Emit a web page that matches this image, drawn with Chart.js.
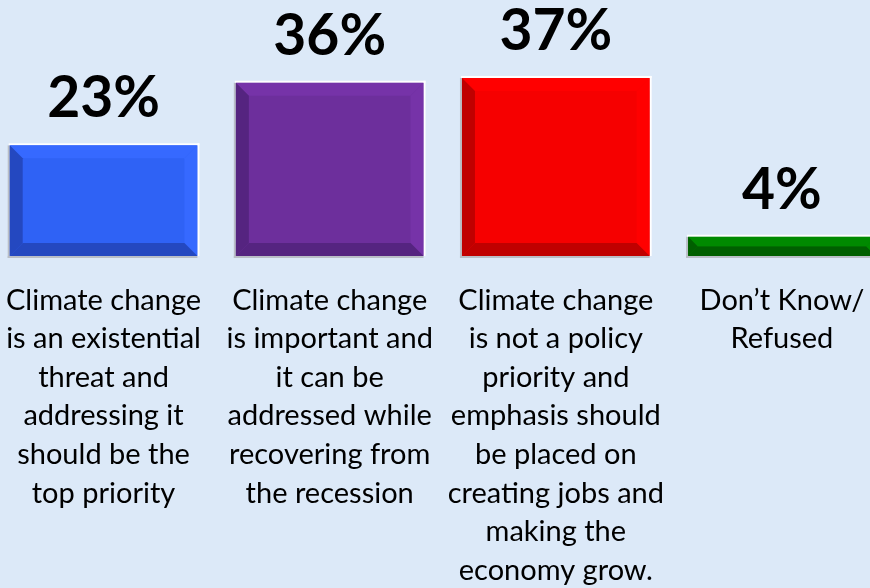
<!DOCTYPE html>
<html>
<head>
<meta charset="utf-8">
<script src="https://cdn.jsdelivr.net/npm/chart.js@4"></script>
<style>
    html, body {
        margin: 0;
        padding: 0;
        width: 870px;
        height: 588px;
        overflow: hidden;
        background: #dce9f8;
    }
    #wrap {
        position: absolute;
        left: -11px;
        top: 0;
        width: 906px;
        height: 588px;
    }
</style>
</head>
<body>
<div id="wrap"><canvas id="surveyChart"></canvas></div>
<script>
// ========================================
// Chart data
// ========================================
const categories = [
    ['Climate change', 'is an existential', 'threat and', 'addressing it', 'should be the', 'top priority'],
    ['Climate change', 'is important and', 'it can be', 'addressed while', 'recovering from', 'the recession'],
    ['Climate change', 'is not a policy', 'priority and', 'emphasis should', 'be placed on', 'creating jobs and', 'making the', 'economy grow.'],
    ['Don\u2019t Know/', 'Refused']
];
const percentages = [23, 36, 37, 4];

// face / light (top, right) / dark (left, bottom) shades for each bar
const faceColors = ['#2f62f5', '#6d2f9c', '#f60000', '#007a00'];
const lightColors = ['#3669ff', '#7633a8', '#ff0000', '#008a00'];
const darkColors = ['#2448c0', '#552480', '#c00000', '#005f00'];

// Bevel effect drawn over each bar
const bevelPlugin = {
    id: 'bevel',
    afterDatasetsDraw(chart) {
        const ctx = chart.ctx;
        const meta = chart.getDatasetMeta(0);
        meta.data.forEach((bar, i) => {
            const left = bar.x - bar.width / 2;
            const right = bar.x + bar.width / 2;
            const top = bar.y;
            const bottom = bar.base;
            const b = Math.min(13, (bottom - top) / 2);

            ctx.save();
            // soft shadow edge
            ctx.fillStyle = '#b9bec6';
            ctx.fillRect(left - 2, top, 2, bottom - top + 2);
            ctx.fillRect(left - 2, bottom, right - left + 2, 2);
            // white highlight edge
            ctx.fillStyle = '#ffffff';
            ctx.fillRect(left - 1, top - 2, right - left + 3, 2);
            ctx.fillRect(right, top - 2, 2, bottom - top + 2);

            const poly = (pts, color) => {
                ctx.beginPath();
                ctx.moveTo(pts[0][0], pts[0][1]);
                pts.slice(1).forEach(p => ctx.lineTo(p[0], p[1]));
                ctx.closePath();
                ctx.fillStyle = color;
                ctx.fill();
            };
            // top
            poly([[left, top], [right, top], [right - b, top + b], [left + b, top + b]], lightColors[i]);
            // right
            poly([[right, top], [right, bottom], [right - b, bottom - b], [right - b, top + b]], lightColors[i]);
            // left
            poly([[left, top], [left + b, top + b], [left + b, bottom - b], [left, bottom]], darkColors[i]);
            // bottom
            poly([[left, bottom], [left + b, bottom - b], [right - b, bottom - b], [right, bottom]], darkColors[i]);
            ctx.restore();
        });
    }
};

// Value labels above bars
const valueLabelPlugin = {
    id: 'valueLabels',
    afterDatasetsDraw(chart) {
        const ctx = chart.ctx;
        const meta = chart.getDatasetMeta(0);
        ctx.save();
        ctx.font = 'bold 57px Lato';
        ctx.fillStyle = '#000000';
        ctx.textAlign = 'center';
        ctx.textBaseline = 'alphabetic';
        meta.data.forEach((bar, i) => {
            ctx.fillText(percentages[i] + '%', bar.x, bar.y - 28);
        });
        ctx.restore();
    }
};

document.addEventListener('DOMContentLoaded', function () {
    const surveyCtx = document.getElementById('surveyChart');
    new Chart(surveyCtx, {
        type: 'bar',
        data: {
            labels: categories,
            datasets: [{
                data: percentages,
                backgroundColor: faceColors,
                borderWidth: 0,
                categoryPercentage: 1,
                barPercentage: 0.83
            }]
        },
        options: {
            responsive: true,
            maintainAspectRatio: false,
            animation: false,
            layout: {
                padding: 0
            },
            plugins: {
                legend: { display: false },
                tooltip: { enabled: false }
            },
            scales: {
                y: {
                    display: false,
                    min: 0,
                    max: 53.2
                },
                x: {
                    grid: { display: false },
                    border: { display: false },
                    // long labels need more than the default half-height limit
                    afterFit: function (scale) {
                        scale.height = 332;
                    },
                    ticks: {
                        autoSkip: false,
                        maxRotation: 0,
                        padding: 17,
                        color: '#000000',
                        font: {
                            family: 'Lato',
                            size: 29,
                            lineHeight: '38.6px'
                        }
                    }
                }
            }
        },
        plugins: [bevelPlugin, valueLabelPlugin]
    });
});
</script>
</body>
</html>
